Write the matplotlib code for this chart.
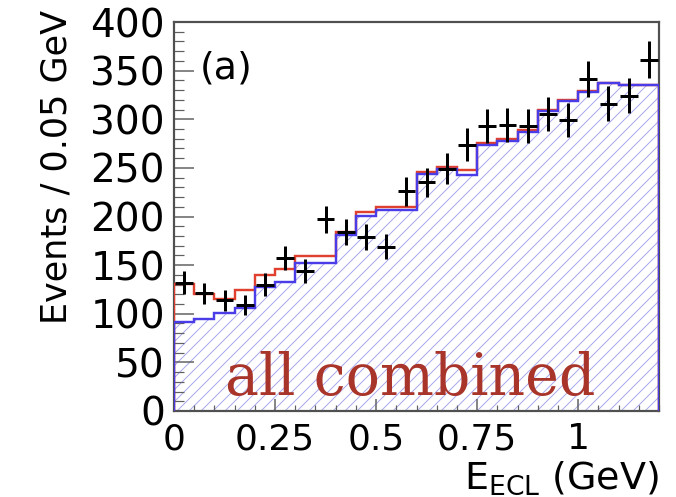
import numpy as np
import matplotlib
matplotlib.use("Agg")
import matplotlib.pyplot as plt
from matplotlib.ticker import FixedLocator, MultipleLocator

# ---- data ----
bin_edges = [0.0, 0.05, 0.10, 0.15, 0.20, 0.25, 0.30, 0.35, 0.40, 0.45, 0.50, 0.55,
             0.60, 0.65, 0.70, 0.75, 0.80, 0.85, 0.90, 0.95, 1.00, 1.05, 1.10, 1.15, 1.20]
bin_centers = [0.025, 0.075, 0.125, 0.175, 0.225, 0.275, 0.325, 0.375, 0.425, 0.475,
               0.525, 0.575, 0.625, 0.675, 0.725, 0.775, 0.825, 0.875, 0.925, 0.975,
               1.025, 1.075, 1.125, 1.175]
events = [132, 121, 114, 109, 130, 157, 144, 197, 184, 179, 169, 226,
          235, 249, 274, 293, 294, 293, 305, 299, 341, 316, 324, 361]
event_err = [11.5, 11.0, 10.7, 10.4, 11.4, 12.5, 12.0, 14.0, 13.6, 13.4, 13.0, 15.0,
             15.3, 15.8, 16.6, 17.1, 17.1, 17.1, 17.5, 17.3, 18.5, 17.8, 18.0, 19.0]
total_fit = [131, 120, 115, 124, 140, 146, 159, 159, 184, 205, 210, 210,
             246, 251, 248, 276, 280, 289, 310, 320, 329, 337, 335, 335]
background = [92, 95, 101, 106, 128, 133, 152, 152, 181, 201, 207, 207,
              244, 249, 243, 274, 278, 287, 308, 319, 328, 337, 335, 335]
x_ticks = [0, 0.25, 0.5, 0.75, 1.0]
x_tick_labels = ["0", "0.25", "0.5", "0.75", "1"]
y_ticks = [0, 50, 100, 150, 200, 250, 300, 350, 400]
y_tick_labels = ["0", "50", "100", "150", "200", "250", "300", "350", "400"]

# ---- style ----
W, H, DPI = 676, 497, 72
plt.rcParams['font.family'] = ['DejaVu Sans']
plt.rcParams['hatch.linewidth'] = 1.0
plt.rcParams['mathtext.fontset'] = 'dejavusans'

RED = '#e0402e'
BLUE = '#4a3ce6'
HATCH = '#aaaaee'
SPINE = '#505050'

fig = plt.figure(figsize=(W / DPI, H / DPI), dpi=DPI)
ax = fig.add_axes([174 / W, 1 - 411 / H, (659 - 174) / W, (411 - 22) / H])

# hatched background histogram
ax.stairs(background, bin_edges, baseline=0, fill=True, hatch='//',
          facecolor='none', edgecolor=HATCH, linewidth=0, zorder=1.5)
# total fit (red) and background (blue) step lines
ax.stairs(total_fit, bin_edges, baseline=0, color=RED, linewidth=2.4, zorder=2.8)
ax.stairs(background, bin_edges, baseline=0, color=BLUE, linewidth=2.4, zorder=2.9)

# data points
ax.errorbar(bin_centers, events, yerr=event_err, xerr=0.022, fmt='none',
            ecolor='black', elinewidth=3.0, capsize=0, zorder=4)

ax.set_xlim(0, 1.2)
ax.set_ylim(0, 400)

ax.xaxis.set_major_locator(FixedLocator(x_ticks))
ax.set_xticklabels(x_tick_labels)
ax.xaxis.set_minor_locator(MultipleLocator(0.05))
ax.yaxis.set_major_locator(FixedLocator(y_ticks))
ax.set_yticklabels(y_tick_labels)
ax.yaxis.set_minor_locator(MultipleLocator(10))

ax.tick_params(axis='both', which='both', direction='in', colors='#606060',
               labelcolor='black')
ax.tick_params(axis='y', which='major', length=20, width=1.5, pad=9, labelsize=39)
ax.tick_params(axis='y', which='minor', length=10, width=1.2)
ax.tick_params(axis='x', which='major', length=12, width=1.5, pad=11, labelsize=36)
ax.tick_params(axis='x', which='minor', length=6, width=1.2)

for s in ax.spines.values():
    s.set_color(SPINE)
    s.set_linewidth(2.2)

# texts
ax.text((200 - 174) / 485, (411 - 50) / 389, "(a)", transform=ax.transAxes,
        fontsize=38, ha='left', va='top', color='black')
ax.text((225 - 174) / 485, (411 - 395) / 389, "all combined", transform=ax.transAxes,
        fontsize=57, family='DejaVu Serif', ha='left', va='baseline', color='#a8342a')

fig.text(56 / W, 1 - 10 / H, "Events / 0.05 GeV", rotation=90, ha='center', va='top',
         fontsize=35, color='black')
fig.text(659 / W, 1 - 489 / H, r"$\mathrm{E_{ECL}}$ (GeV)", ha='right', va='baseline',
         fontsize=38, color='black')

fig.savefig("out.png", dpi=DPI, facecolor='white')
